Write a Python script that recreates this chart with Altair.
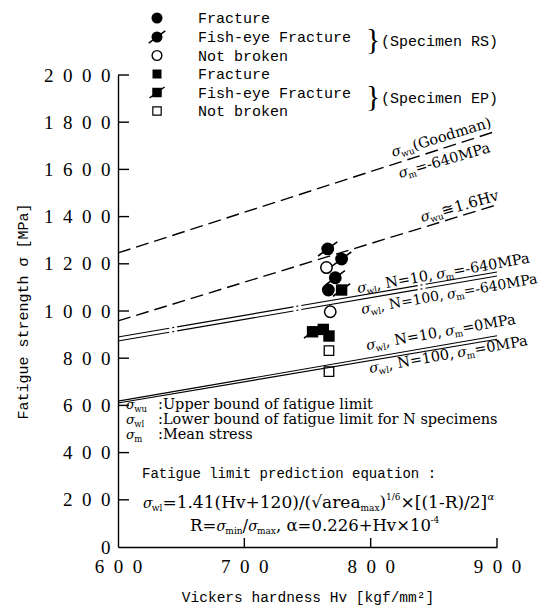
import math
import altair as alt
import pandas as pd

# ---------------- values ----------------
LINE_HV = [600, 900]
GOODMAN = [1246, 1763]        # sigma_wu (Goodman), sigma_m = -640 MPa
UPPER_16HV = [958, 1450]      # sigma_wu ~ 1.6Hv
WL_N10_M640 = [890, 1165]
WL_N100_M640 = [873, 1148]
WL_N10_M0 = [618, 895]
WL_N100_M0 = [610, 880]

RS_FRACTURE_HV = [766.5]
RS_FRACTURE_S = [1089]
RS_FISHEYE_HV = [766, 777, 772]
RS_FISHEYE_S = [1263, 1220, 1141]
RS_NOTBROKEN_HV = [765, 768]
RS_NOTBROKEN_S = [1184, 997]
EP_FRACTURE_HV = [762.5, 767]
EP_FRACTURE_S = [922, 894]
EP_FISHEYE_HV = [777, 754]
EP_FISHEYE_S = [1089, 912]
EP_NOTBROKEN_HV = [767, 767]
EP_NOTBROKEN_S = [832, 743]

X_TICKS = [600, 700, 800, 900]
Y_TICKS = list(range(0, 2001, 200))

LEGEND_LABELS = ["Fracture", "Fish-eye Fracture", "Not broken",
                 "Fracture", "Fish-eye Fracture", "Not broken"]

# ---------------- layout ----------------
W, H = 379, 472
PL, PT, PR, PB = 118, 75, 50, 59
HV0, HV1 = 600, 900
S0, S1 = 0, 2000
KX = W / (HV1 - HV0)
KY = H / (S1 - S0)
SERIF = "DejaVu Serif"
TSERIF = "Liberation Serif"
MONO = "Liberation Mono"
SLASH = "M-1.5,1.1L1.5,-1.1"


def to_data(px, py):
    return HV0 + (px - PL) / KX, S0 + (PT + H - py) / KY


DV = {
    '0': .636, '1': .636, '2': .636, '3': .636, '4': .636, '5': .636, '6': .636,
    '7': .636, '8': .636, '9': .636, ' ': .318, ',': .318, '.': .318, '=': .838,
    '-': .338, '+': .838, '×': .838, '/': .337, '(': .39, ')': .39, '[': .39,
    ']': .39, ':': .337, '√': .636, '≅': .838, 'σ': .63, 'α': .64,
    'M': .972, 'P': .733, 'N': .815, 'G': .821, 'H': .872, 'R': .771, 'U': .812,
    'L': .693, 'a': .596, 'b': .64, 'c': .56, 'd': .64, 'e': .592, 'f': .37,
    'g': .64, 'i': .32, 'l': .32, 'm': .948, 'n': .644, 'o': .602, 'p': .64,
    'r': .478, 's': .513, 't': .402, 'u': .644, 'v': .565, 'w': .856, 'x': .565,
}


def text_width(t, size, style):
    if style == 'm':
        return 0.6 * size * len(t)
    return sum(DV.get(c, 0.6) for c in t) * size


FRAGS = []


def place(parts, px, py, ang=0.0):
    th = math.radians(ang)
    d = 0.0
    for t, size, shift, style in parts:
        ox = d * math.cos(th) + shift * math.sin(th)
        oy = -d * math.sin(th) + shift * math.cos(th)
        hv, s = to_data(px + ox, py + oy)
        FRAGS.append(dict(hv=hv, s=s, text=t, size=size,
                          angle=(360 - ang) % 360, style=style))
        d += text_width(t, size, style)


SG = "σ"
# line labels
place([(SG, 14, 0, 'i'), ('wu', 9, 3, 'r'), ('(Goodman)', 14.5, 0, 'r')], 393, 157, 17)
place([(SG, 14, 0, 'i'), ('m', 9, 3, 'r'), ('=-640MPa', 14.5, 0, 'r')], 400, 178, 16)
place([(SG, 14, 0, 'i'), ('wu', 9, 3, 'r'), ('≅1.6Hv', 15, 0, 'r')], 422, 222, 16)
place([(SG, 14, 0, 'i'), ('wl', 9, 3, 'r'), (', N=10, ', 14.5, 0, 'r'),
       (SG, 14, 0, 'i'), ('m', 9, 3, 'r'), ('=-640MPa', 14.5, 0, 'r')], 358, 293, 10)
place([(SG, 14, 0, 'i'), ('wl', 9, 3, 'r'), (', N=100, ', 14, 0, 'r'),
       (SG, 13.5, 0, 'i'), ('m', 9, 3, 'r'), ('=-640MPa', 14, 0, 'r')], 362, 314, 10)
place([(SG, 14, 0, 'i'), ('wl', 9, 3, 'r'), (', N=10, ', 14.5, 0, 'r'),
       (SG, 14, 0, 'i'), ('m', 9, 3, 'r'), ('=0MPa', 14.5, 0, 'r')], 367, 350, 10)
place([(SG, 14, 0, 'i'), ('wl', 9, 3, 'r'), (', N=100, ', 14.5, 0, 'r'),
       (SG, 14, 0, 'i'), ('m', 9, 3, 'r'), ('=0MPa', 14.5, 0, 'r')], 370, 373, 10)

# notes
for sub, note, base in [('wu', ':Upper bound of fatigue limit', 409),
                        ('wl', ':Lower bound of fatigue limit for N specimens', 424),
                        ('m', ':Mean stress', 439)]:
    place([(SG, 13, 0, 'i'), (sub, 8.5, 3, 'r')], 126, base)
    place([(note, 14.5, 0, 'r')], 158, base)

place([('Fatigue limit prediction equation :', 14, 0, 'm')], 142, 478)
place([(SG, 14, 0, 'i'), ('wl', 9, 3, 'r'), ('=1.41(Hv+120)/(√area', 17, 0, 'r'),
       ('max', 9, 3, 'r'), (')', 17, 0, 'r'), ('1/6', 9, -8, 'r'),
       ('×[(1-R)/2]', 17, 0, 'r'), ('α', 10, -8, 'i')], 143, 508)
place([('R=', 16.5, 0, 'r'), (SG, 14, 0, 'i'), ('min', 9, 3, 'r'), ('/', 16.5, 0, 'r'),
       (SG, 14, 0, 'i'), ('max', 9, 3, 'r'), (', α=0.226+Hv×10', 16.5, 0, 'r'),
       ('-4', 9, -8, 'r')], 190, 531)

# legend texts
LEG_Y = [18, 37, 55.5, 74, 92.5, 111]
for lab, yc in zip(LEGEND_LABELS, LEG_Y):
    place([(lab, 15, 0, 'm')], 198, yc + 5)
place([('}', 30, 0, 'b')], 366, 49)
place([('}', 30, 0, 'b')], 366, 106)
place([('(Specimen RS)', 15, 0, 'm')], 381, 46)
place([('(Specimen EP)', 15, 0, 'm')], 381, 103)

frag_df = pd.DataFrame(FRAGS)

# ---------------- encodings ----------------
X = alt.X('hv:Q', scale=alt.Scale(domain=[HV0, HV1], nice=False, zero=False),
          axis=alt.Axis(values=X_TICKS, ticks=False, grid=False, domainColor='black',
                        domainWidth=1.4, labelExpr="join(split(datum.label, ''), '\u2002')",
                        labelFont=TSERIF, labelFontSize=19, labelColor='black',
                        labelPadding=10, labelFlush=False, labelOverlap=False,
                        title='Vickers hardness Hv [kgf/mm²]', titleFont=MONO,
                        titleFontSize=14.5, titleFontWeight='normal', titleColor='black',
                        titleY=54, titleBaseline='alphabetic'))
Y = alt.Y('s:Q', scale=alt.Scale(domain=[S0, S1], nice=False, zero=False),
          axis=alt.Axis(values=Y_TICKS, format='d', ticks=False, grid=False,
                        domainColor='black', domainWidth=1.4,
                        labelExpr="join(split(datum.label, ''), '\u2002')",
                        labelFont=TSERIF, labelFontSize=19, labelColor='black',
                        labelPadding=8, labelOverlap=False,
                        title='Fatigue strength σ [MPa]', titleFont=MONO,
                        titleFontSize=15, titleFontWeight='normal', titleColor='black',
                        titleX=-96, titleBaseline='middle'))


def line_df(names_vals):
    rows = []
    for name, vals in names_vals:
        for hv, s in zip(LINE_HV, vals):
            rows.append(dict(line=name, hv=hv, s=s))
    return pd.DataFrame(rows)


dashed = alt.Chart(line_df([('goodman', GOODMAN), ('hv16', UPPER_16HV)])).mark_line(
    color='black', strokeWidth=1.4, strokeDash=[13, 6]).encode(x=X, y=Y, detail='line:N')
dashdot = alt.Chart(line_df([('n10', WL_N10_M640), ('n100', WL_N100_M640)])).mark_line(
    color='black', strokeWidth=1.1, strokeDash=[118, 3, 2, 3], strokeDashOffset=66).encode(
    x=X, y=Y, detail='line:N')
solid = alt.Chart(line_df([('n10', WL_N10_M0), ('n100', WL_N100_M0)])).mark_line(
    color='black', strokeWidth=1.1).encode(x=X, y=Y, detail='line:N')

ytick = alt.Chart(pd.DataFrame({'s': Y_TICKS[1:]})).mark_rule(
    color='black', strokeWidth=1.4).encode(y=Y, x=alt.value(0), x2=alt.value(11))
xtick = alt.Chart(pd.DataFrame({'hv': X_TICKS[1:]})).mark_rule(
    color='black', strokeWidth=1.4).encode(x=X, y=alt.value(H), y2=alt.value(H - 9))


def pts(hv, s, shape, size, filled, sw=1.5):
    return alt.Chart(pd.DataFrame({'hv': hv, 's': s})).mark_point(
        shape=shape, size=size, filled=filled, color='black', opacity=1,
        strokeWidth=sw).encode(x=X, y=Y)


lhv, _ = to_data(157, 0)
leg_s = [to_data(157, y)[1] for y in LEG_Y]

points = [
    pts(RS_FRACTURE_HV, RS_FRACTURE_S, 'circle', 165, True),
    pts(RS_FISHEYE_HV, RS_FISHEYE_S, 'circle', 165, True),
    pts(RS_FISHEYE_HV, RS_FISHEYE_S, SLASH, 165, False, 1.6),
    pts(RS_NOTBROKEN_HV, RS_NOTBROKEN_S, 'circle', 130, False, 1.5),
    pts(EP_FRACTURE_HV, EP_FRACTURE_S, 'square', 130, True),
    pts(EP_FISHEYE_HV, EP_FISHEYE_S, 'square', 130, True),
    pts(EP_FISHEYE_HV, EP_FISHEYE_S, SLASH, 130, False, 1.6),
    pts(EP_NOTBROKEN_HV, EP_NOTBROKEN_S, 'square', 90, False, 1.3),
    # legend symbols
    pts([lhv], [leg_s[0]], 'circle', 121, True),
    pts([lhv], [leg_s[1]], 'circle', 121, True),
    pts([lhv], [leg_s[1]], SLASH, 121, False, 1.5),
    pts([lhv], [leg_s[2]], 'circle', 95, False, 1.4),
    pts([lhv], [leg_s[3]], 'square', 81, True),
    pts([lhv], [leg_s[4]], 'square', 90, True),
    pts([lhv], [leg_s[4]], SLASH, 100, False, 1.5),
    pts([lhv], [leg_s[5]], 'square', 70, False, 1.2),
]


def text_layer(style, font, italic=False):
    sub = frag_df[frag_df['style'] == style]
    kw = dict(align='left', baseline='alphabetic', font=font, color='black')
    if italic:
        kw['fontStyle'] = 'italic'
    return alt.Chart(sub).mark_text(**kw).encode(
        x=X, y=Y, text='text:N',
        size=alt.Size('size:Q', scale=None, legend=None),
        angle=alt.Angle('angle:Q', scale=None))


texts = [text_layer('r', SERIF), text_layer('i', SERIF, True),
         text_layer('m', MONO), text_layer('b', TSERIF)]

chart = alt.layer(dashed, dashdot, solid, ytick, xtick, *points, *texts).properties(
    width=W, height=H,
    autosize=alt.AutoSizeParams(type='none'),
    padding={'left': PL, 'top': PT, 'right': PR, 'bottom': PB},
    background='white',
).configure_view(stroke=None)

chart.save("out.html", embed_options={"renderer": "svg", "actions": False})
